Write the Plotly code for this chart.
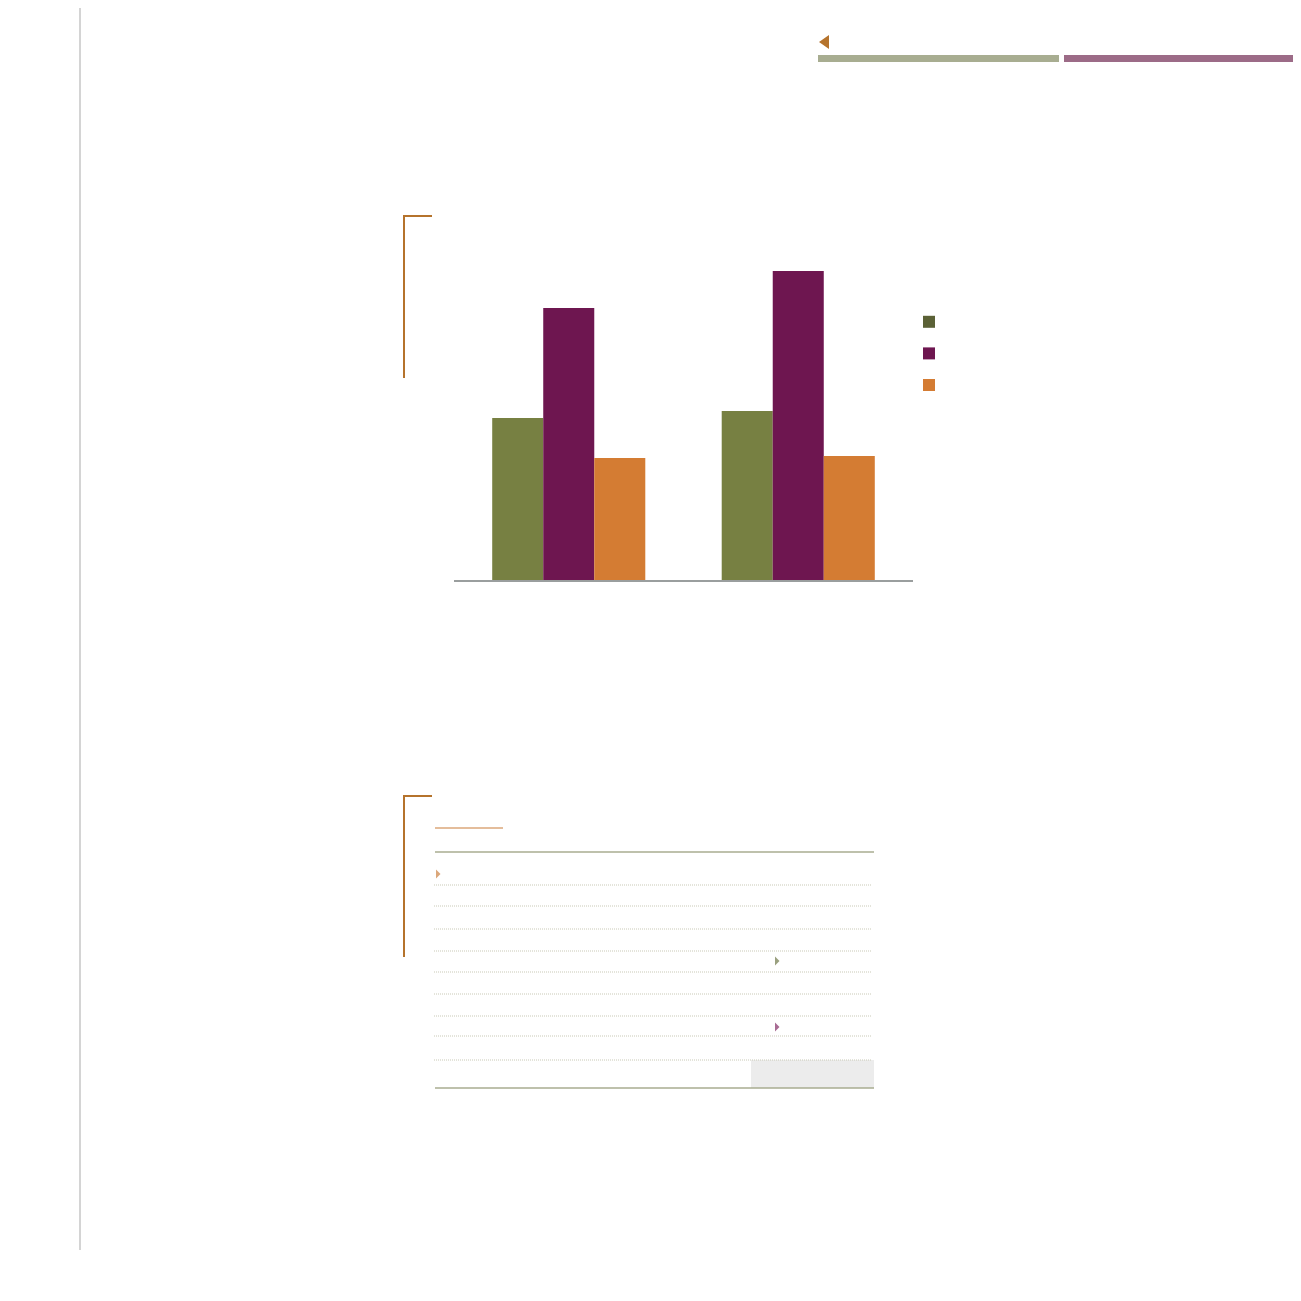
import plotly.graph_objects as go

# data (no text labels in the source picture)
groups = ["Group 1", "Group 2"]
series_names = ["", "", ""]
series_a = [16.2, 16.9]
series_b = [27.2, 30.9]
series_c = [12.2, 12.4]
bar_colors = ["#778042", "#6e1650", "#d47c33"]
key_colors = ["#5b6136", "#6e1650", "#d47c33"]

# page pixels -> paper coords (the html body has an 8px margin)
OFF = 8
W = 1293
H = 1293


def fx(x):
    return (x - OFF) / W


def fy(y):
    return 1 - (y - OFF) / H


fig = go.Figure()

# bars (legend drawn by separate key traces so the key colour can differ)
groups_ids = ["a", "b", "c"]
for vals, col, g in zip([series_a, series_b, series_c], bar_colors, groups_ids):
    fig.add_trace(go.Bar(x=groups, y=vals, marker=dict(color=col, line=dict(width=0)),
                         offsetgroup=g, showlegend=False, hoverinfo="y"))
for name, col, g in zip(series_names, key_colors, groups_ids):
    fig.add_trace(go.Bar(x=[groups[0]], y=[None], name=name, offsetgroup=g,
                         marker=dict(color=col, line=dict(width=0)), showlegend=True))

brown = "#b5732c"
sage = "#a8ad91"
mauve = "#9c6b87"
dots = "#c9c9b6"


def line(x0, y0, x1, y1, color, width=2, dash="solid"):
    return dict(type="line", xref="paper", yref="paper",
                x0=fx(x0), x1=fx(x1), y0=fy(y0), y1=fy(y1),
                line=dict(color=color, width=width, dash=dash))


def rect(x0, y0, x1, y1, color):
    return dict(type="rect", xref="paper", yref="paper",
                x0=fx(x0), x1=fx(x1), y0=fy(y0), y1=fy(y1),
                fillcolor=color, line=dict(width=0), layer="below")


def tri(pts, color):
    p = "M " + " L ".join(f"{fx(a)},{fy(b)}" for a, b in pts) + " Z"
    return dict(type="path", xref="paper", yref="paper", path=p,
                fillcolor=color, line=dict(width=0))


shapes = []
# left page rule
shapes.append(line(80, 0, 80, 1250, "#d4d4d4", 2))
# header bars + back arrow
shapes.append(rect(818, 55, 1059, 62, sage))
shapes.append(rect(1064, 55, 1301, 62, mauve))
shapes.append(tri([(819, 42), (829, 35), (829, 49)], brown))

# chart bracket
shapes.append(line(404, 216, 404, 378, brown))
shapes.append(line(403, 216, 432, 216, brown))

# table bracket
shapes.append(line(404, 796, 404, 957, brown))
shapes.append(line(403, 796, 432, 796, brown))
shapes.append(line(435, 828, 503, 828, "#dba77a", 1.5))
shapes.append(line(435, 852, 874, 852, sage, 1.5))
shapes.append(rect(751, 1060, 874, 1088, "#ececec"))
shapes.append(line(435, 1088, 874, 1088, sage, 1.5))
for yy in [885, 906, 929, 951, 972, 994, 1016, 1036, 1060]:
    shapes.append(line(434, yy, 871, yy, dots, 1, "1px,1px"))
for (tx, ty, tc) in [(436, 874, "#dba77a"), (775, 961, "#9aa07f"), (775, 1027, "#a86b93")]:
    shapes.append(tri([(tx, ty - 4.5), (tx + 4.5, ty), (tx, ty + 4.5)], tc))

fig.update_layout(
    width=W, height=H,
    margin=dict(l=0, r=0, t=0, b=0),
    paper_bgcolor="white", plot_bgcolor="white",
    barmode="group", bargap=0.333, bargroupgap=0,
    showlegend=True,
    legend=dict(x=fx(909), y=fy(301), xanchor="left", yanchor="top",
                font=dict(size=22, family="Open Sans"), bgcolor="rgba(0,0,0,0)",
                traceorder="normal"),
    xaxis=dict(domain=[fx(454), fx(913)], showticklabels=False, ticks="",
               showline=True, linecolor="#9a9e9e", linewidth=2, showgrid=False,
               zeroline=False, fixedrange=True),
    yaxis=dict(domain=[fy(580), fy(216)], range=[0, 36.4], showticklabels=False,
               showgrid=False, zeroline=False, showline=False, ticks="", fixedrange=True),
    shapes=shapes,
)

fig.write_html("out.html")
